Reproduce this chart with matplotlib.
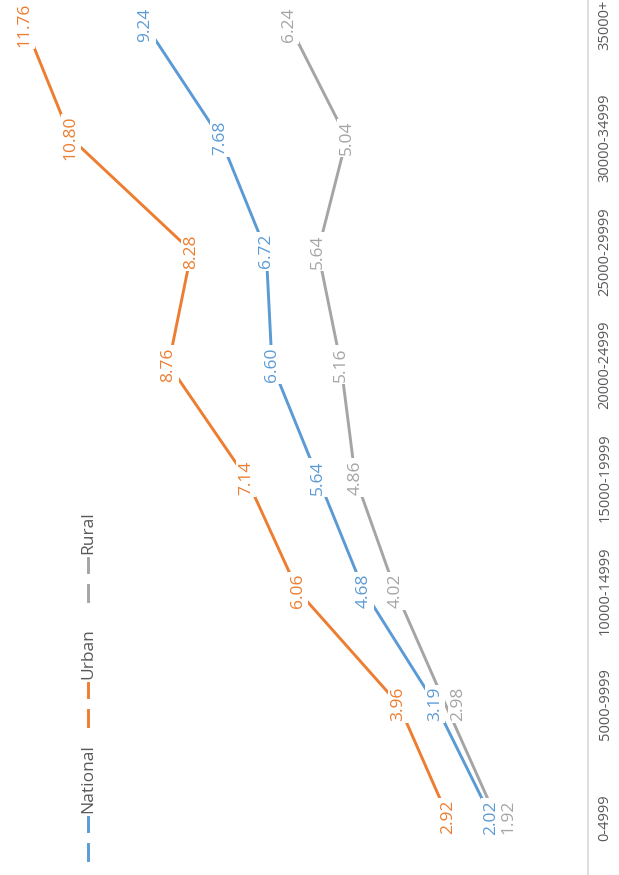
import matplotlib.pyplot as plt
from matplotlib.lines import Line2D

plt.rcParams["font.family"] = ["Open Sans", "DejaVu Sans"]

income_bands = ["0-4999", "5000-9999", "10000-14999", "15000-19999",
                "20000-24999", "25000-29999", "30000-34999", "35000+"]
national = [2.02, 3.19, 4.68, 5.64, 6.60, 6.72, 7.68, 9.24]
urban = [2.92, 3.96, 6.06, 7.14, 8.76, 8.28, 10.80, 11.76]
rural = [1.92, 2.98, 4.02, 4.86, 5.16, 5.64, 5.04, 6.24]

series = [
    ("National", national, "#5B9BD5"),
    ("Urban", urban, "#ED7D31"),
    ("Rural", rural, "#A5A5A5"),
]
# labels nudged aside where series crowd each other at the low end
label_shift = {("Rural", 0): 9, ("Rural", 1): 9}

W, H = 619, 875
fig = plt.figure(figsize=(W / 100, H / 100), dpi=100)
ax = fig.add_axes([0, 0, 588 / W, 1])

idx = list(range(len(income_bands)))

# chart is laid on its side: categories run upward, values grow to the left
for name, vals, col in series:
    ax.plot(vals, idx, color=col, lw=2.1, solid_capstyle="butt", zorder=2)
    for v, i in zip(vals, idx):
        dx = label_shift.get((name, i), 0)
        ax.annotate(f"{v:.2f}", (v, i), xytext=(dx, 0),
                    textcoords="offset points", rotation=90,
                    ha="center", va="center", fontsize=12.5, color=col,
                    zorder=3, annotation_clip=False,
                    bbox=dict(boxstyle="square,pad=0.12", fc="white",
                              ec="none"))

ax.set_xlim(12.28, 0)
ax.set_ylim(-0.51, 7.22)
ax.set_xticks([])
ax.set_yticks(idx)
ax.set_yticklabels(income_bands, rotation=90, va="center", fontsize=10.5,
                   color="#595959")
ax.yaxis.tick_right()
ax.tick_params(axis="y", length=0, pad=7)
for s in ["left", "top", "bottom"]:
    ax.spines[s].set_visible(False)
ax.spines["right"].set_color("#D9D9D9")
ax.spines["right"].set_linewidth(1.2)


# legend, drawn by hand so it can be turned with the rest of the chart
def px(x, y):
    return x / W, 1 - y / H


legend_x = 88
for (name, _, col), seg_top in zip(series, [817, 683, 558]):
    for a, b in [(seg_top, seg_top + 14), (seg_top + 27, seg_top + 43)]:
        (x0, y0), (x1, y1) = px(legend_x, a), px(legend_x, b)
        fig.add_artist(Line2D([x0, x1], [y0, y1], color=col, lw=2.1,
                              transform=fig.transFigure))
    tx, ty = px(legend_x, seg_top - 4)
    fig.text(tx, ty, name, rotation=90, ha="center", va="bottom",
             fontsize=12.5, color="#595959")

fig.savefig("out.png", dpi=100, facecolor="white")
